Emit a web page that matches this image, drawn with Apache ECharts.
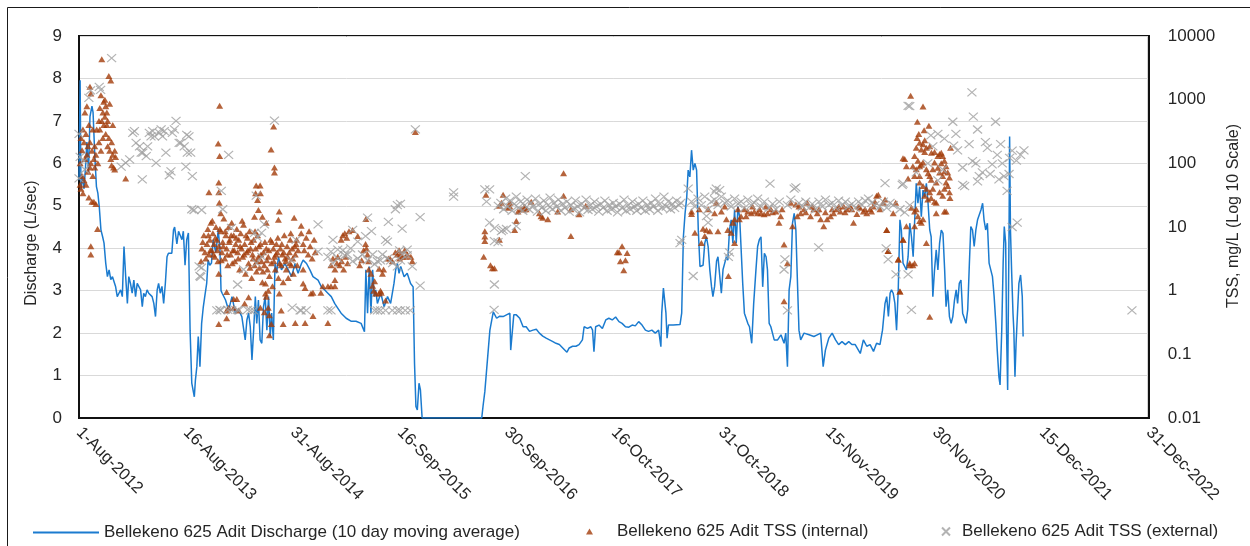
<!DOCTYPE html>
<html>
<head>
<meta charset="utf-8">
<script src="https://cdn.jsdelivr.net/npm/echarts@6/dist/echarts.min.js"></script>
<style>
  html, body { margin: 0; padding: 0; background: #ffffff; }
  #chart { width: 1250px; height: 546px; }
</style>
</head>
<body>
<div id="chart"></div>
<script>
// Bellekeno 625 Adit: discharge (10-day moving average) and TSS, Aug 2012 - Dec 2022.
// x positions are days since 1 Aug 2012.
const START_UTC = Date.UTC(2012, 7, 1);
const X_MAX_DAYS = 3804;            // 31-Dec-2022
const X_TICK_DAYS = 380.4;          // ten equal steps across the axis
const dischargeTicks = [0, 9, 1];   // min, max, step (L/sec)
const tssRange = [0.01, 10000];     // mg/L, log10 axis

const seriesNames = [
  'Bellekeno 625 Adit Discharge (10 day moving average)',
  'Bellekeno 625 Adit TSS (internal)',
  'Bellekeno 625 Adit TSS (external)'
];

// [day, L/sec]
const discharge = [
  [0,5.6],[4,7.96],[7,5.37],[12,5.7],[18,5.4],[23,5.9],[28,6.5],[34,5.8],[39,7.1],[46,7.35],[50,7.2],[56,6.2],[62,5.45],[67,5.3],[72,4.98],[78,4.43],[84,4.27],[89,4.12],[95,3.65],[101,3.33],[107,3.49],[113,3.26],[119,3.33],[130,3.1],[136,2.86],[142,2.94],[148,3.02],[154,2.86],[160,4.04],[166,3.33],[172,2.7],[177,3.33],[183,3.17],[189,2.94],[195,3.25],[201,2.86],[207,3.17],[213,3.17],[219,3.02],[225,2.62],[230,2.94],[236,2.86],[242,3.02],[248,2.94],[260,2.86],[266,2.7],[272,2.39],[278,3.02],[283,3.17],[289,2.94],[295,3.1],[301,2.7],[307,3.17],[313,3.8],[318,3.88],[330,3.88],[336,4.43],[340,4.5],[348,4.1],[354,4.4],[360,4.3],[366,4.2],[371,4.4],[377,3.6],[383,4.2],[389,4.36],[395,2.07],[401,0.82],[406,0.8],[410,0.5],[414,0.9],[419,1.21],[424,1.92],[428,1.5],[430,1.21],[436,2.23],[442,2.62],[448,2.9],[454,3.17],[459,3.72],[465,3.6],[471,3.65],[477,4.2],[486,3.9],[490,4.1],[495,4.43],[501,4.0],[505,3.0],
  [509,2.94],[521,2.78],[532,2.54],[544,2.86],[556,2.47],[568,2.54],[579,2.39],[591,1.84],[597,2.31],[603,2.47],[609,2.15],[615,1.37],[621,2.07],[627,2.86],[632,2.23],[638,2.78],[644,1.84],[650,1.76],[656,2.62],[662,2.86],[668,2.07],[674,2.86],[680,1.92],[685,2.47],[691,1.84],[697,3.64],[703,3.41],[709,3.8],[720,3.49],[732,3.64],[744,3.49],[756,3.33],[768,3.64],[779,3.41],[791,3.64],[797,3.72],[809,3.64],[821,3.49],[832,3.33],[850,3.25],[862,3.09],[873,3.02],[885,2.94],[897,2.86],[909,2.7],[920,2.59],[932,2.47],[950,2.35],[967,2.28],[985,2.28],[1003,2.23],[1015,2.03],[1020,3.49],[1026,2.47],[1032,3.57],[1038,2.47],[1044,3.49],[1050,2.86],[1055,3.02],[1061,2.7],[1073,2.94],[1085,2.62],[1097,2.86],[1108,2.7],[1120,3.17],[1126,3.49],[1132,3.64],[1138,3.41],[1144,3.57],[1150,3.6],[1156,3.33],[1167,3.41],[1179,3.17],[1188,3.09],[1193,1.29],[1198,0.27],[1203,0.19],[1209,0.82],[1214,0.66],[1220,0],[1432,0],[1437,0.3],[1443,0.62],[1449,0.66],[1461,2.07],[1473,2.5],
  [1485,2.35],[1496,2.4],[1508,2.39],[1520,2.43],[1532,2.47],[1535,1.6],[1541,1.6],[1546,2.43],[1555,2.43],[1567,2.35],[1579,2.15],[1590,2.15],[1602,2.04],[1614,2.07],[1626,2.09],[1637,2.0],[1649,1.93],[1661,1.88],[1673,1.84],[1685,1.8],[1696,1.76],[1708,1.73],[1720,1.65],[1735,1.55],[1743,1.65],[1755,1.69],[1767,1.69],[1778,1.73],[1790,1.84],[1796,2.15],[1808,2.11],[1820,2.15],[1826,2.07],[1831,1.56],[1837,2.15],[1849,2.19],[1861,2.11],[1873,2.31],[1884,2.35],[1896,2.31],[1908,2.38],[1920,2.27],[1931,2.23],[1943,2.15],[1955,2.14],[1967,2.19],[1978,2.17],[1990,2.27],[2002,2.19],[2014,2.07],[2025,2.04],[2037,2.07],[2049,2.0],[2061,2.07],[2069,1.68],[2072,2.47],[2078,3.06],[2084,3.04],[2087,2.47],[2091,1.88],[2096,2.19],[2113,2.19],[2137,2.2],[2143,2.47],[2149,4.27],[2155,4.82],[2161,5.21],[2166,5.84],[2172,5.68],[2178,6.31],[2184,5.84],[2190,6.0],[2196,5.84],[2202,4.43],[2208,3.57],[2219,3.6],[2225,4.12],[2231,4.27],[2237,4.04],[2243,3.49],[2249,3.1],[2254,2.86],[2260,3.1],[2267,3.7],[2272,3.8],[2284,2.94],[2290,3.5],[2296,3.65],[2302,3.8],[2307,3.72],[2313,4.43],[2319,4.67],[2325,4.12],[2331,4.9],[2337,4.12],[2343,4.98],[2349,4.74],[2355,4.74],[2360,3.17],[2366,2.47],[2378,2.23],[2384,2.15],[2392,1.76],[2399,2.7],[2407,3.49],[2413,4.04],[2419,4.2],[2425,4.27],[2431,3.09],[2437,3.88],[2443,3.8],[2448,3.49],[2454,2.23],[2460,2.15],[2472,1.84],[2484,1.84],[2496,1.96],[2507,1.76],[2513,2.0],[2519,1.21],[2525,3.02],[2531,3.33],[2537,4.59],[2543,4.82],[2549,4.43],[2554,3.33],[2560,2.07],[2566,1.84],[2578,2.0],[2596,1.96],[2613,1.92],[2625,1.96],[2637,2.0],[2646,1.21],[2654,1.6],[2666,1.88],[2678,2.0],[2690,1.84],[2701,1.73],[2713,1.8],[2725,1.73],[2737,1.8],[2748,1.73],[2760,1.73],[2778,1.52],[2789,1.84],[2801,1.69],[2813,1.73],[2825,1.57],[2836,1.76],[2848,1.73],[2857,2.07],[2866,2.7],[2872,2.86],[2878,2.39],[2884,2.94],[2889,3.02],[2895,2.94],[2901,2.7],[2907,2.07],[2913,3.02],[2919,4.67],[2924,4.43],[2930,3.65],[2936,3.57],[2942,3.49],[2948,3.8],[2954,4.59],[2960,4.27],[2966,3.8],[2972,4.74],[2977,5.53],[2983,5.06],[2989,5.45],[2995,4.74],[3001,5.37],[3007,5.21],[3013,5.53],[3019,5.06],[3025,4.43],[3030,4.27],[3036,2.86],[3042,3.49],[3048,3.96],[3054,3.49],[3060,4.12],[3066,4.43],[3072,4.35],[3078,3.49],[3083,2.62],[3089,3.02],[3095,2.39],[3101,2.23],[3107,2.39],[3113,2.78],[3119,3.02],[3124,2.7],[3130,3.17],[3136,3.25],[3142,2.47],[3148,2.47],[3154,2.23],[3160,2.55],[3166,3.65],[3171,4.51],[3177,4.43],[3183,4.04],[3189,4.43],[3195,4.67],[3201,4.67],[3207,4.9],[3213,5.06],[3218,4.67],[3224,4.43],[3230,4.59],[3236,3.65],[3242,3.49],[3248,3.33],[3254,2.86],[3260,2.23],[3265,1.6],[3271,0.97],[3275,0.78],[3281,2.07],[3286,3.65],[3290,4.51],[3295,4.12],[3298,2.07],[3302,0.66],[3307,4.43],[3309,6.63],[3312,4.43],[3316,3.49],[3321,2.47],[3324,2.07],[3328,0.97],[3332,1.76],[3337,2.47],[3342,3.17],[3348,3.37],[3354,2.86],[3357,1.92]
];

// [day, mg/L]
const tssInternal = [
  [4,100],[4,46],[7,250],[7,40],[11,160],[11,63],[14,340],[14,34],[18,215],[18,54],[21,117],[21,630],[25,46],[25,290],[28,790],[28,136],[32,74],[32,185],[35,400],[35,29],[39,1600],[39,215],[39,86],[42,1250],[42,100],[42,5],[42,3.7],[46,158],[46,25],[49,63],[49,340],[53,117],[53,25],[56,86],[56,185],[60,23],[60,136],[63,340],[66,9.3],[67,100],[71,464],[71,215],[74,740],[74,340],[78,1170],[78,158],[81,4300],[81,464],[85,630],[85,250],[88,930],[88,400],[92,1000],[92,540],[95,290],[95,790],[99,630],[99,400],[102,185],[102,464],[106,2350],[106,250],[109,158],[109,860],[113,2000],[113,117],[116,215],[116,93],[120,136],[120,400],[123,86],[127,158],[127,80],[130,126],[166,58],
  [462,35],[495,205],[497,50],[497,35],[499,24],[500,800],[500,130],[504,16.5],[624,14.5],[628,34],[630,45],[635,26.5],[638,18.5],[644,45],[645,34],[652,14.5],[666,11.7],[683,165],[692,380],[695,86],[695,72],[709,13],[712,17.5],
  [434,2.9],[437,4.6],[444,7.4],[448,4.0],[455,5.4],[458,9.3],[462,3.7],[465,6.3],[469,11.7],[472,4.3],[476,8.0],[480,5.4],[483,3.4],[487,10],[490,6.3],[494,2.9],[497,5.0],[497,1.85],[504,8.6],[508,4.0],[511,5.8],[515,13.6],[518,3.2],[522,7.4],[525,4.6],[525,0.95],[529,2.5],[532,10],[536,6.3],[539,3.7],[543,11.7],[547,4.3],[550,7.4],[554,2.9],[557,5.4],[561,9.3],[564,4.0],[568,6.3],[571,2.15],[575,8.0],[578,4.6],[582,3.4],[585,10.8],[589,5.4],[592,1.85],[596,4.0],[599,6.8],[603,2.7],[606,8.6],[610,4.6],[614,1.58],[617,3.7],[621,6.3],[624,2.5],[628,4.6],[631,2.0],[635,7.4],[638,3.4],[642,2.3],[645,5.4],[649,2.9],[652,1.36],[656,4.0],[659,2.5],[663,1.3],[666,4.6],[670,2.15],[673,1.0],[673,3.4],[677,1.7],[681,6.3],[684,2.7],[688,1.17],[691,4.6],[695,3.4],[698,2.15],[702,5.4],[705,4.0],[709,1.58],[712,0.9],[716,4.6],[719,2.5],[723,3.7],[726,1.36],[730,7.4],[733,3.2],[737,2.15],[740,5.0],[744,1.58],[748,4.0],[751,6.3],[755,2.5],[758,4.6],[762,1.85],[765,14],[769,3.7],[772,5.4],[776,2.5],[779,4.3],
  [440,5.8],[451,3.2],[460,7.4],[467,4.3],[474,12.5],[478,3.7],[485,6.8],[492,4.3],[501,9.3],[506,3.0],[513,5.0],[520,8.6],[527,3.7],[534,5.8],[541,7.4],[545,2.7],[552,4.3],[559,6.8],[566,3.2],[573,5.0],[580,12.5],[587,3.7],[594,7.4],[601,4.3],[608,2.3],[612,5.8],[619,3.2],[626,8.6],[633,2.9],[640,5.0],[647,3.7],[654,2.0],[661,5.8],[668,3.0],[675,4.3],[686,5.8],[693,2.9],[700,3.7],[707,6.8],[714,2.7],[721,5.4],[728,4.0],[735,2.9],[742,3.4],[749,2.7],[753,8.0],[760,3.2],[767,5.0],[774,6.3],
  [497,0.30],[525,0.49],[525,0.37],[532,0.54],[550,0.74],[550,0.54],[561,0.74],[568,0.49],[589,0.63],[603,0.79],[645,0.54],[659,0.46],[673,0.54],[677,0.41],[684,0.30],[677,0.2],[719,0.49],[726,0.30],[663,0.9],[666,0.8],
  [790,10.5],[790,8.0],[797,5.4],[801,4.3],[808,6.8],[815,3.7],[818,8.6],[822,5.0],[829,3.2],[836,6.3],[840,4.0],[797,2.15],[797,1.3],[804,1.1],[832,0.93],[860,0.93],[867,1.17],[885,1.17],[896,1.17],[910,1.17],[769,0.31],[804,0.31],[885,0.31],[832,0.40],[825,0.9],[910,1.47],[896,2.5],[903,3.2],[910,2.15],[917,2.7],[920,3.4],[927,2.5],[934,2.9],[941,2.15],[948,3.4],[955,2.7],[932,6.3],[938,7.4],[945,8.0],[952,6.8],[960,8.6],[973,9.0],[991,7.2],[1020,13.3],[998,2.5],[1005,3.0],[1012,4.3],[1019,5.4],[1022,4.6],[1026,3.7],[1030,2.9],[1030,2.15],[1038,1.85],[1044,1.2],[1048,1.0],[1051,1.4],[1055,0.9],[1067,0.9],[1072,1.0],[1075,0.93],[1090,0.70],[1067,2.2],[1079,1.85],[1083,2.15],[1100,3.2],[1106,3.2],[1114,2.9],[1125,4.0],[1132,3.7],[1138,4.3],[1140,3.2],[1143,3.7],[1150,3.4],[1158,4.3],[1160,3.4],[1168,3.7],[1180,3.4],[1185,2.9],[1196,310],
  [1439,3.4],[1443,8.6],[1443,7.1],[1443,6.0],[1447,32],[1463,2.5],[1470,2.25],[1477,2.25],[1495,21.5],[1495,6.3],[1502,24],[1508,32],[1526,20],[1532,24],[1532,21],[1549,9],[1555,12.4],[1561,17.5],[1572,19],[1584,21],[1584,19],[1590,19],[1608,25],[1637,16.5],[1643,14.8],[1649,14],[1667,13.2],[1702,17.5],[1723,70],[1723,31],[1749,19],[1749,7.2],[1778,15.8],[1802,21.5],[1914,4.0],[1920,4.0],[1925,2.9],[1931,5.0],[1937,2.1],[1943,3.0],[1949,3.9],
  [2178,17.5],[2178,16],[2190,8.1],[2205,19],[2213,5.6],[2219,9.4],[2225,7.2],[2231,9],[2237,19],[2243,8.6],[2260,16.5],[2266,24],[2272,8.6],
  [2284,17.5],[2302,13.2],[2307,9],[2309,1.7],[2319,8.1],[2325,11.7],[2331,5.6],[2331,13.2],[2348,13.2],[2354,14.8],[2366,19],[2372,14.8],[2378,17.5],[2390,16.5],[2401,17.5],[2413,16.5],[2425,16.5],[2436,15.8],[2448,16.5],[2460,19],[2478,17.5],[2489,11.7],[2495,14.8],[2507,5.3],[2507,0.68],[2519,2.7],[2531,24],[2537,10.3],[2549,22.5],[2554,14.8],[2566,16.5],[2578,19],[2589,24],[2601,14.8],[2613,19],[2625,16.5],[2637,13.2],[2648,10.3],[2660,13.2],[2672,14.8],[2683,16.5],[2695,19],[2707,17.5],[2719,21],[2730,19],[2742,21],[2754,11.7],[2766,16],[2777,20],[2789,17.5],[2801,16.5],[2813,19],[2824,21],[2836,31],[2842,32],[2848,19],[2860,24],[2866,27],[2872,9],[2877,4.2],[2895,16.5],[2904,24],[2913,3.1],[2919,0.97],[2930,6.3],[2942,10.3],[2954,2.7],[2965,2.5],[2971,10.3],
  [2296,21],[2343,19],[2395,21],[2420,19],[2442,21],[2466,17],[2500,19],[2560,21],[2584,17],[2607,21],[2631,19],[2654,17],[2678,19],[2701,21],[2724,17],[2748,19],[2771,21],[2795,19],[2818,17.5],[2830,25],
  [2957,1150],[3001,780],[2981,450],[3022,390],[2980,250],[2989,210],[3001,200],[3007,230],[2995,165],[3013,175],[3025,185],[3031,147],[2977,175],[2971,130],[2983,110],[2965,90],[2989,90],[3001,103],[3013,81],[3025,63],[3036,81],[3042,103],[3054,130],[3060,140],[3066,147],[3071,130],[3077,110],[3083,90],[3089,72],[3095,60],[3083,50],[3071,63],[3060,72],[3048,50],[3036,40],[3025,35],[3013,40],[3001,44],[2989,63],[2977,81],[2971,63],[2942,90],[2936,117],[2930,120],[2948,58],[2989,50],[3007,31],[3018,27],[3030,28.5],[3042,25],[3048,24],[3060,35],[3071,31],[3077,40],[3089,44],[3095,35],[3097,28.5],[3099,175],[2960,20],[2971,17.5],[2983,14.8],[2989,12.4],[2995,11.7],[2977,19],[3001,13.2],[3048,16.5],[3077,17.5],[3083,17.5],[3013,5.6],[2930,6.3],[2954,2.5],[2971,2.7],[2913,3.1],[2919,0.97],[3025,0.39],[2877,4.2],[2872,9],
  [2995,95],[3007,150],[3019,70],[3030,55],[3042,150],[3054,85],[3066,100],[3078,75],[3005,330],[2986,290]
];

// [day, mg/L]
const tssExternal = [
  [0,58],[0,290],[4,126],[18,108],[21,80],[35,1070],[41,1400],[72,1585],[77,1420],[116,4500],
  [150,89],[166,102],[180,115],[191,300],[197,320],[203,210],[215,185],[221,147],[227,147],[239,130],[244,185],[250,300],[256,265],[262,320],[268,265],[274,102],[286,300],[292,341],[297,265],[303,320],[309,147],[321,65],[327,75],[332,300],[339,341],[345,464],[356,210],[362,210],[374,185],[380,89],[385,147],[391,265],[397,147],[403,63],[409,18.5],[225,56],[401,19],[436,18.5],[383,280],
  [532,136],[695,470],[436,2.3],[430,1.7],[506,37],[511,19],[542,9.7],[630,31],[624,8.1],[649,8.1],[635,6.8],[659,11],[564,1.25],[501,0.5],[529,0.5],[564,0.5],[599,0.5],[758,0.54],[490,0.49],[504,0.49],[543,0.49],[568,0.49],[610,0.49],[621,0.49],[786,0.49],[790,0.49],[808,0.49],[885,0.49],[896,0.49],[1051,0.49],[1061,0.49],[1072,0.49],[1090,0.49],[1114,0.49],[1132,0.49],[1142,0.49],[1160,0.49],[1178,0.49],[427,2.4],[433,1.65],[585,2.15],[631,2.7],[650,3.4],[755,3.0],[772,6.3],[850,4.1],[896,4.1],[920,4.4],[945,3.6],[966,4.6],[991,5.9],[1019,7.2],[1090,6.3],[1097,5.9],[1051,2.6],[1072,3.0],[1108,3.0],[1132,2.4],[1143,3.0],[1167,3.6],
  [885,3.4],[903,2.7],[920,3.2],[938,4.3],[955,3.7],[973,2.9],[991,3.2],[1008,3.7],[1026,3.0],[1044,3.7],[1061,2.9],[1079,3.7],[1097,3.2],[1115,2.7],[1140,4.3],[1150,3.7],[850,11],[903,6.3],[973,9],[1026,14],[1125,19],[1143,23],[1149,9.4],[1167,4.4],[1185,2.4],[1213,1.2],[1213,14.3],[1196,341],[1132,22],[1040,8.6],[1100,12],
  [1332,35],[1332,30],[1443,39],[1460,39],[1449,25],[1491,21.5],[1460,11.7],[1477,6],[1477,1.25],[1476,0.5],[1477,9.6],[1508,9],[1490,5.8],[1587,63],[1502,8.6],[1520,9.3],[1555,10.3],[2137,5.6],[2143,6.3],[2184,1.7],[2231,14.8],[2237,11.7],[2266,40],
  [1500,24],[1510,19],[1517,28],[1525,21],[1533,26],[1540,18],[1548,23],[1555,30],[1562,20],[1570,25],[1578,18],[1585,22],[1593,27],[1600,19],[1608,24],[1615,21],[1623,28],[1630,17.5],[1638,23],[1645,20],[1653,26],[1660,18],[1668,22],[1675,29],[1683,19],[1690,24],[1698,21],[1705,27],[1713,18],[1720,23],[1728,20],[1735,25],[1743,17.5],[1750,22],[1758,19],[1765,26],[1773,21],[1780,17],[1788,23],[1795,20],[1803,27],[1810,18.5],[1818,22],[1825,19],[1833,25],[1840,21],[1848,17.5],[1855,23],[1863,20],[1870,26],[1878,18],[1885,22],[1893,19],[1900,24],[1908,21],[1915,17],[1923,23],[1930,20],[1938,27],[1945,18],[1953,22],[1960,19],[1968,25],[1975,21],[1983,18],[1990,23],[1998,20],[2005,26],[2013,18],[2020,22],[2028,19],[2035,24],[2043,21],[2050,28],[2058,18],[2065,23],[2073,20],[2080,30],[2088,21],[2095,25],[2103,19],[2110,23],[2118,20],[2125,26],[2133,22],[2140,24],
  [2166,40],[2178,25],[2190,21],[2201,28],[2213,22],[2225,30],[2237,19],[2248,25],[2260,27],[2272,22],[2284,30],[2296,24],[2307,26],[2319,21],[2331,28],[2343,23],[2354,25],[2366,20],[2378,27],[2390,22],[2401,24],[2413,28],[2425,21],[2437,25],[2454,20],[2466,23],[2478,19],[2490,25],[2519,22],[2531,27],[2543,40],[2549,42],[2560,24],[2572,21],[2584,25],[2596,20],[2607,23],[2619,19],[2631,25],[2643,21],[2654,27],[2666,22],[2678,24],[2690,20],[2701,26],[2713,22],[2725,25],[2737,21],[2748,23],[2760,20],[2772,25],[2784,22],[2795,26],[2807,28],[2819,24],[2830,22],
  [2260,36],[2278,38],[2457,48],[2630,4.8],[2507,2.15],[2510,3.1],[2519,0.49],[2866,49],[2930,48],[2954,790],[2870,4.6],[2877,3.1],[2905,1.8],[2948,1.8],[2960,0.5],[2309,3.4],[2313,4.0],
  [3175,1300],[2948,800],[3180,540],[3107,450],[3259,450],[3029,275],[3077,245],[3118,290],[3165,200],[3223,215],[3230,175],[3277,200],[3360,160],[3348,136],[3309,122],[3124,160],[3110,190],[3142,86],[3177,108],[3189,100],[3247,96],[3283,100],[3201,63],[3212,72],[3240,68],[3271,56],[3289,63],[3300,37],[3142,46],[3149,44],[3195,52],[3318,10],[3336,11.7],[2927,46],[2977,72],[3018,100],[3054,54],[3071,80],[3036,185],[3054,290],[3195,340],[3318,158],[3333,110],[3307,68],[3265,136],[2848,21],[2860,25],[2872,20],[2884,24],[2895,22],[2919,19],[2936,17],[2954,22],
  [3744,0.49]
];

const MONTHS = ['Jan','Feb','Mar','Apr','May','Jun','Jul','Aug','Sep','Oct','Nov','Dec'];
function dayLabel(v) {
  const d = new Date(START_UTC + Math.floor(v + 1e-6) * 86400000);
  return d.getUTCDate() + '-' + MONTHS[d.getUTCMonth()] + '-' + d.getUTCFullYear();
}
function logLabel(v) {
  const e = Math.round(Math.log10(v));
  return e < 0 ? Math.pow(10, e).toFixed(-e) : String(Math.round(Math.pow(10, e)));
}

const FONT = 'Liberation Sans, Arial, sans-serif';
const TEXT = '#262626';
const LINE_BLUE = '#1b7bcf';
const TRI_RED = '#a23c0a';
const CROSS_GREY = '#a0a0a0';
const CROSS_PATH = 'path://M0,0L10,10M10,0L0,10';

const chart = echarts.init(document.getElementById('chart'), null, { renderer: 'canvas' });

chart.setOption({
  backgroundColor: '#ffffff',
  animation: false,
  textStyle: { fontFamily: FONT, color: TEXT },
  graphic: [{
    type: 'rect', silent: true, z: -1,
    shape: { x: 7.5, y: 7.5, width: 1260, height: 560 },
    style: { fill: 'none', stroke: '#1a1a1a', lineWidth: 1 }
  }],
  grid: {
    left: 79, right: 92, top: 36, bottom: 128,
    show: true, borderColor: '#111', borderWidth: 2, backgroundColor: 'transparent'
  },
  legend: [
    { data: [{ name: seriesNames[0], icon: 'rect' }], left: 28, top: 519, itemWidth: 66, itemHeight: 2, itemGap: 0,
      textStyle: { fontFamily: FONT, fontSize: 17, color: TEXT } },
    { data: [seriesNames[1]], left: 581, top: 518, itemWidth: 7, itemHeight: 6, itemGap: 0,
      textStyle: { fontFamily: FONT, fontSize: 17, color: TEXT, padding: [0, 0, 0, 19] } },
    { data: [seriesNames[2]], left: 936, top: 518, itemWidth: 8, itemHeight: 8, itemGap: 0,
      textStyle: { fontFamily: FONT, fontSize: 17, color: TEXT, padding: [0, 0, 0, 7] } }
  ],
  xAxis: {
    type: 'value', min: 0, max: X_MAX_DAYS, interval: X_TICK_DAYS,
    axisLine: { show: true, lineStyle: { color: '#111', width: 2 } },
    axisTick: { show: false },
    splitLine: { show: false },
    axisLabel: {
      rotate: -45, margin: 12, fontSize: 16.5, color: TEXT, fontFamily: FONT,
      formatter: dayLabel, showMaxLabel: true, showMinLabel: true
    }
  },
  yAxis: [
    {
      type: 'value', min: dischargeTicks[0], max: dischargeTicks[1], interval: dischargeTicks[2],
      name: 'Discharge (L/sec)', nameLocation: 'middle', nameGap: 39, nameRotate: 90,
      nameTextStyle: { fontFamily: FONT, fontSize: 16, color: TEXT, padding: [0, 32, 0, 0] },
      axisLine: { show: true, lineStyle: { color: '#111', width: 2 } },
      axisTick: { show: false },
      splitLine: { show: true, lineStyle: { color: '#d9d9d9', width: 1 } },
      axisLabel: { fontSize: 17, margin: 17, color: TEXT, fontFamily: FONT }
    },
    {
      type: 'log', logBase: 10, min: tssRange[0], max: tssRange[1], splitNumber: 6,
      position: 'right',
      name: 'TSS, mg/L (Log 10 Scale)', nameLocation: 'middle', nameGap: 67, nameRotate: 90,
      nameTextStyle: { fontFamily: FONT, fontSize: 16, color: TEXT, padding: [0, 0, 0, 22] },
      axisLine: { show: true, lineStyle: { color: '#111', width: 2 } },
      axisTick: { show: false },
      splitLine: { show: false },
      axisLabel: { fontSize: 17, margin: 19, color: TEXT, fontFamily: FONT, formatter: logLabel }
    }
  ],
  series: [
    {
      name: seriesNames[0], type: 'line', yAxisIndex: 0,
      data: discharge, symbol: 'none', showSymbol: false,
      lineStyle: { color: LINE_BLUE, width: 1.5 },
      itemStyle: { color: LINE_BLUE },
      z: 2
    },
    {
      name: seriesNames[1], type: 'scatter', yAxisIndex: 1,
      data: tssInternal, symbol: 'triangle', symbolSize: [7, 6],
      itemStyle: { color: TRI_RED },
      z: 3
    },
    {
      name: seriesNames[2], type: 'scatter', yAxisIndex: 1,
      data: tssExternal, symbol: CROSS_PATH, symbolSize: [9, 8],
      itemStyle: { color: 'rgba(0,0,0,0)', borderColor: CROSS_GREY, borderWidth: 1.2 },
      z: 4
    }
  ]
});
</script>
</body>
</html>
